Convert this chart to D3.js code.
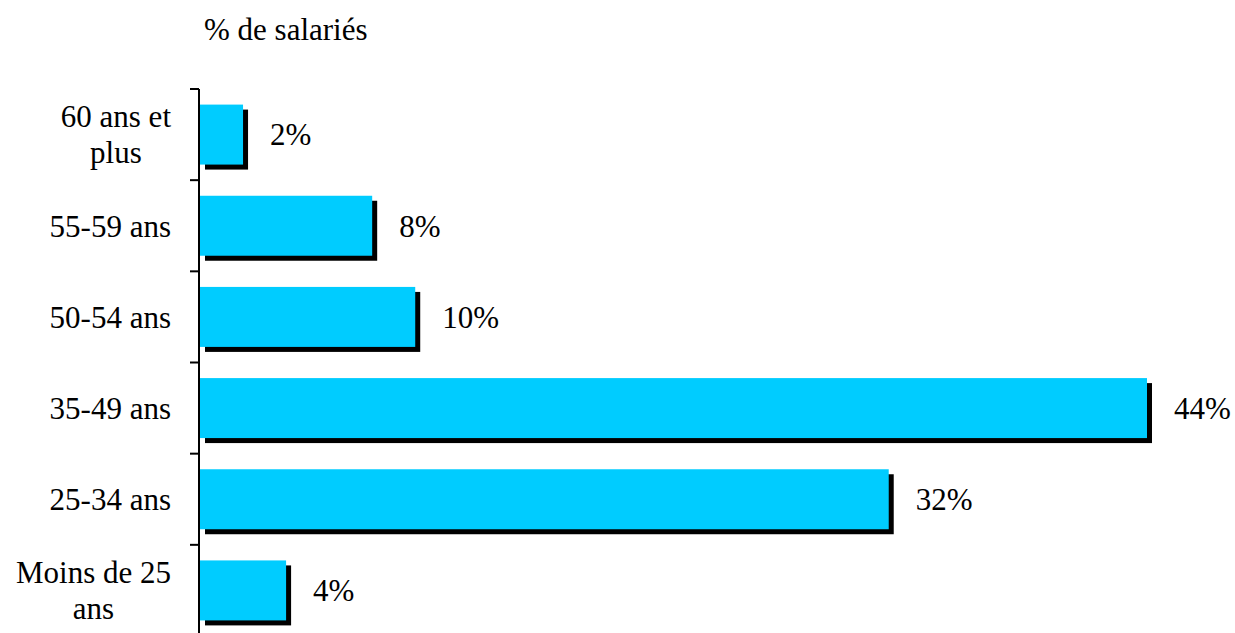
<!DOCTYPE html>
<html>
<head>
<meta charset="utf-8">
<script src="https://cdn.jsdelivr.net/npm/d3@7"></script>
<style>
  body { margin: 0; background: #fff; }
  text { font-family: "Liberation Serif", "Times New Roman", serif; fill: #000; }
</style>
</head>
<body>
<script>
var w = 1235;
var h = 633;

// age groups, top to bottom
var categories = [["60 ans et", "plus"], ["55-59 ans"], ["50-54 ans"], ["35-49 ans"], ["25-34 ans"], ["Moins de 25", "ans"]];
var values = [2, 8, 10, 44, 32, 4];
var valueLabels = ["2%", "8%", "10%", "44%", "32%", "4%"];
var axisTitle = "% de salariés";

var fontSize = 31;
var shadow = 5;

var svg = d3.select("body")
            .append("svg")
            .attr("width", w)
            .attr("height", h);

var y = d3.scaleBand()
          .domain(d3.range(categories.length))
          .range([89, 636])
          .paddingInner(0.342)
          .paddingOuter(0.171);

var x = d3.scaleLinear()
          .domain([0, 44])
          .range([200, 1147]);

var gap = (y.step() - y.bandwidth()) / 2;

// shadows first, then bars on top
svg.selectAll("rect.shadow")
    .data(values)
    .enter()
    .append("rect")
    .attr("class", "shadow")
    .attr("x", x(0) + shadow)
    .attr("y", function(d, i) { return y(i) + shadow; })
    .attr("width", function(d) { return x(d) - x(0); })
    .attr("height", y.bandwidth())
    .attr("fill", "#000");

svg.selectAll("rect.bar")
    .data(values)
    .enter()
    .append("rect")
    .attr("class", "bar")
    .attr("x", x(0))
    .attr("y", function(d, i) { return y(i); })
    .attr("width", function(d) { return x(d) - x(0); })
    .attr("height", y.bandwidth())
    .attr("fill", "#00ccff");

// axis line and ticks between bands
svg.append("line")
    .attr("x1", 199).attr("x2", 199)
    .attr("y1", y(0) - gap).attr("y2", h)
    .attr("stroke", "#000")
    .attr("stroke-width", 2);

svg.selectAll("line.tick")
    .data(d3.range(categories.length + 1))
    .enter()
    .append("line")
    .attr("class", "tick")
    .attr("x1", 190).attr("x2", 199)
    .attr("y1", function(i) { return y.range()[0] + y.step() * i; })
    .attr("y2", function(i) { return y.range()[0] + y.step() * i; })
    .attr("stroke", "#000")
    .attr("stroke-width", 2);

// value labels
svg.selectAll("text.value")
    .data(values)
    .enter()
    .append("text")
    .attr("class", "value")
    .attr("x", function(d) { return x(d) + 27; })
    .attr("y", function(d, i) { return y(i) + y.bandwidth() / 2; })
    .attr("dy", "0.35em")
    .attr("font-size", fontSize + "px")
    .text(function(d, i) { return valueLabels[i]; });

// category labels, multi-line centred on their widest line
var lineH = 36;
var catG = svg.selectAll("g.cat")
    .data(categories)
    .enter()
    .append("g")
    .attr("class", "cat");

catG.each(function(lines, i) {
    var g = d3.select(this);
    var cy = y(i) + y.bandwidth() / 2;
    var texts = g.selectAll("text")
        .data(lines)
        .enter()
        .append("text")
        .attr("font-size", fontSize + "px")
        .attr("text-anchor", "middle")
        .attr("y", function(d, k) { return cy + (k - (lines.length - 1) / 2) * lineH; })
        .attr("dy", "0.35em")
        .text(function(d) { return d; });
    var maxW = 0;
    texts.each(function() { maxW = Math.max(maxW, this.getComputedTextLength()); });
    texts.attr("x", 171 - maxW / 2);
});

svg.append("text")
    .attr("x", 204)
    .attr("y", 40)
    .attr("font-size", fontSize + "px")
    .text(axisTitle);
</script>
</body>
</html>
